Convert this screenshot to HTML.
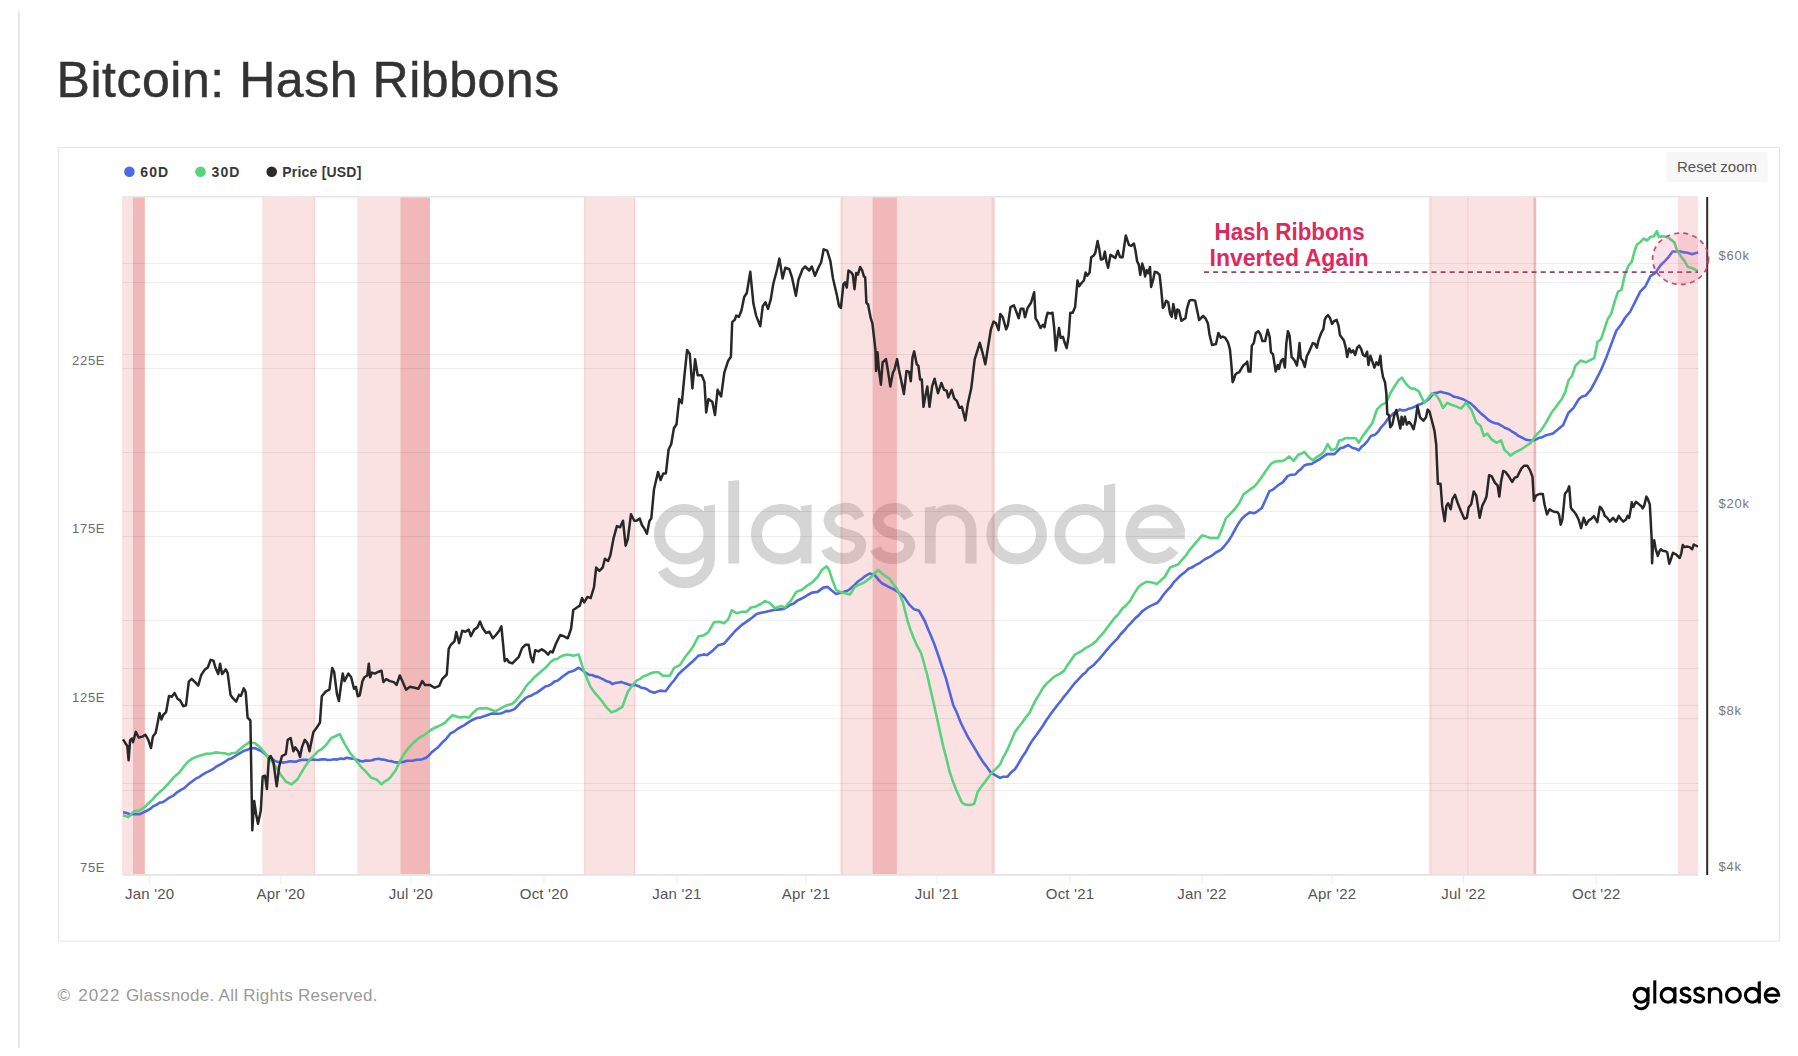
<!DOCTYPE html>
<html><head><meta charset="utf-8"><title>Bitcoin: Hash Ribbons</title>
<style>
html,body{margin:0;padding:0;background:#fff;}
body{width:1798px;height:1056px;position:relative;overflow:hidden;font-family:"Liberation Sans",sans-serif;}
svg text{font-family:"Liberation Sans",sans-serif;}
</style></head><body>
<svg width="1798" height="1056" viewBox="0 0 1798 1056" style="position:absolute;left:0;top:0">
<rect x="18" y="11" width="1.6" height="1037" fill="#e3e3e3"/>
<text x="56.5" y="97" font-size="50" fill="#333" stroke="#333" stroke-width="0.45" letter-spacing="0.54">Bitcoin: Hash Ribbons</text>
<rect x="58.5" y="147.5" width="1721" height="793.5" fill="none" stroke="#e6e6e6" stroke-width="1"/>
<circle cx="129.4" cy="171.7" r="5.3" fill="#4d6be4"/>
<text x="140.3" y="176.8" font-size="14" font-weight="bold" fill="#383838" letter-spacing="1.1">60D</text>
<circle cx="200.5" cy="171.7" r="5.3" fill="#57d37c"/>
<text x="211.5" y="176.8" font-size="14" font-weight="bold" fill="#383838" letter-spacing="1.1">30D</text>
<circle cx="271.7" cy="171.7" r="5.3" fill="#2b2b2b"/>
<text x="282.3" y="176.8" font-size="14" font-weight="bold" fill="#383838" letter-spacing="0.2">Price [USD]</text>
<rect x="1666.5" y="152" width="101" height="30" rx="2" fill="#f7f7f7"/>
<text x="1677" y="172" font-size="15" fill="#555">Reset zoom</text>
<g fill="none" stroke="#000" opacity="0.16" stroke-width="11"><circle cx="684.2" cy="534.2" r="24.8"/>
<path d="M703.9,557 L703.9,506.2 L714.9,504.6 L714.9,557 Z" fill="#000" stroke="none"/>
<path d="M709.4,556.5 A24.8,24.8 0 0 1 662.7,569.5"/>
<path d="M728.3,563.4 L728.3,481.2 L739.2,480.1 L739.2,563.4 Z" fill="#000" stroke="none"/>
<circle cx="781.25" cy="534.2" r="24.8"/>
<path d="M800.7,563.4 L800.7,506.2 L811.6,504.6 L811.6,563.4 Z" fill="#000" stroke="none"/>
<path d="M859.5999999999999,518.0 C855.5999999999999,510.0 849.3,507.0 841.3,509.0 C831.3,511.0 828.3,517.0 829.3,522.0 C831.3,531.8 841.3,532.3 843.9499999999999,533.8 C854.5999999999999,535.8 861.5999999999999,538.8 860.5999999999999,546.6 C859.5999999999999,555.6 851.3,558.6 843.3,558.6 C834.3,558.6 828.3,553.6 826.3,548.6"/>
<path d="M908.5999999999999,518.0 C904.5999999999999,510.0 898.3,507.0 890.3,509.0 C880.3,511.0 877.3,517.0 878.3,522.0 C880.3,531.8 890.3,532.3 892.9499999999999,533.8 C903.5999999999999,535.8 910.5999999999999,538.8 909.5999999999999,546.6 C908.5999999999999,555.6 900.3,558.6 892.3,558.6 C883.3,558.6 877.3,553.6 875.3,548.6"/>
<path d="M924.8,563.4 L924.8,507.8 L935.7,505.8 L935.7,563.4 Z" fill="#000" stroke="none"/>
<path d="M930.25,531 L930.25,529.4 A20.4,20.4 0 0 1 971,529.4 L971,563.4"/>
<circle cx="1016.65" cy="534.2" r="24.8"/>
<circle cx="1084.65" cy="534.2" r="24.8"/>
<path d="M1104.0,563.4 L1104.0,485.6 L1115.2,483.2 L1115.2,563.4 Z" fill="#000" stroke="none"/>
<path d="M1131.2,533.85 L1184.8999999999999,533.85 M1179.3999999999999,533.85 A24.1,24.1 0 1 0 1174.098,549.383"/></g>
<rect x="122" y="197" width="11.0" height="677.6" fill="rgba(230,120,120,0.21)"/>
<rect x="133" y="197" width="11.8" height="677.6" fill="rgba(216,68,68,0.38)"/>
<rect x="262.2" y="197" width="52.7" height="677.6" fill="rgba(230,120,120,0.21)"/>
<rect x="357.3" y="197" width="43.1" height="677.6" fill="rgba(230,120,120,0.21)"/>
<rect x="400.4" y="197" width="29.6" height="677.6" fill="rgba(216,68,68,0.38)"/>
<rect x="584.2" y="197" width="51.0" height="677.6" fill="rgba(230,120,120,0.21)"/>
<rect x="840.6" y="197" width="31.9" height="677.6" fill="rgba(230,120,120,0.21)"/>
<rect x="872.5" y="197" width="24.4" height="677.6" fill="rgba(216,68,68,0.38)"/>
<rect x="896.9" y="197" width="95.1" height="677.6" fill="rgba(230,120,120,0.21)"/>
<rect x="1429.4" y="197" width="106.5" height="677.6" fill="rgba(230,120,120,0.21)"/>
<rect x="1678" y="197" width="20.0" height="677.6" fill="rgba(230,120,120,0.21)"/>
<rect x="313.7" y="197" width="1.8" height="677.6" fill="rgba(216,68,68,0.09)"/>
<rect x="633.8" y="197" width="1.8" height="677.6" fill="rgba(216,68,68,0.09)"/>
<rect x="584.2" y="197" width="1.5" height="677.6" fill="rgba(216,68,68,0.09)"/>
<rect x="840.6" y="197" width="2.2" height="677.6" fill="rgba(216,68,68,0.09)"/>
<rect x="991.7" y="197" width="3.0" height="677.6" fill="rgba(216,68,68,0.09)"/>
<rect x="1429.4" y="197" width="2" height="677.6" fill="rgba(216,68,68,0.09)"/>
<rect x="1467.0" y="197" width="1.6" height="677.6" fill="rgba(216,68,68,0.09)"/>
<rect x="1534.0" y="197" width="2.4" height="677.6" fill="rgba(216,68,68,0.09)"/>
<rect x="992.2" y="197" width="2.4" height="677.6" fill="rgba(216,68,68,0.2)"/>
<rect x="1533.4" y="197" width="2.8" height="677.6" fill="rgba(216,68,68,0.2)"/>
<rect x="122.5" y="196" width="1575.5" height="1.6" fill="#e8e8e8"/>
<rect x="122.5" y="263" width="1575.5" height="1" fill="#000" fill-opacity="0.068"/>
<rect x="122.5" y="282" width="1575.5" height="1" fill="#000" fill-opacity="0.068"/>
<rect x="122.5" y="354" width="1575.5" height="1" fill="#000" fill-opacity="0.068"/>
<rect x="122.5" y="368" width="1575.5" height="1" fill="#000" fill-opacity="0.068"/>
<rect x="122.5" y="452" width="1575.5" height="1" fill="#000" fill-opacity="0.068"/>
<rect x="122.5" y="511" width="1575.5" height="1" fill="#000" fill-opacity="0.068"/>
<rect x="122.5" y="536" width="1575.5" height="1" fill="#000" fill-opacity="0.068"/>
<rect x="122.5" y="620" width="1575.5" height="1" fill="#000" fill-opacity="0.068"/>
<rect x="122.5" y="668" width="1575.5" height="1" fill="#000" fill-opacity="0.068"/>
<rect x="122.5" y="705" width="1575.5" height="1" fill="#000" fill-opacity="0.068"/>
<rect x="122.5" y="718" width="1575.5" height="1" fill="#000" fill-opacity="0.068"/>
<rect x="122.5" y="783" width="1575.5" height="1" fill="#000" fill-opacity="0.068"/>
<rect x="122.5" y="790" width="1575.5" height="1" fill="#000" fill-opacity="0.068"/>
<path d="M123.0,812.3 L125.9,812.7 L130.1,814.2 L133.0,814.3 L135.9,814.0 L139.6,814.2 L142.5,812.9 L147.2,810.5 L150.1,808.9 L153.0,806.4 L156.7,804.8 L159.6,802.6 L162.5,802.3 L166.1,800.0 L169.0,797.8 L173.7,795.3 L176.6,792.7 L181.3,789.6 L184.2,788.1 L188.8,783.9 L191.7,781.7 L196.4,778.3 L199.3,777.1 L202.2,774.8 L205.9,772.6 L208.8,771.4 L213.5,768.8 L216.4,766.5 L221.0,764.1 L223.9,762.5 L228.6,759.3 L231.5,758.4 L236.2,755.5 L239.1,753.7 L243.8,750.8 L246.7,750.1 L251.3,748.0 L255.1,748.3 L260.8,750.8 L265.0,754.1 L267.9,756.4 L270.8,757.5 L274.5,760.7 L277.4,761.7 L280.3,762.0 L283.9,762.6 L286.8,762.0 L289.7,761.3 L293.4,761.6 L296.3,761.6 L299.2,760.4 L302.9,759.7 L305.8,759.9 L308.7,760.1 L312.3,759.4 L315.2,759.7 L318.1,760.0 L321.8,759.4 L324.7,759.3 L327.6,760.0 L331.3,759.7 L334.2,759.2 L337.1,759.6 L340.8,758.4 L343.7,759.0 L346.6,757.8 L350.2,758.4 L353.1,758.6 L356.0,759.4 L359.7,760.7 L362.6,761.4 L365.5,760.6 L369.2,760.7 L372.1,760.3 L375.0,759.2 L378.6,758.8 L381.5,759.4 L384.4,759.8 L388.1,760.7 L391.0,761.1 L393.9,762.0 L397.6,762.6 L400.5,762.1 L403.4,762.0 L407.0,760.7 L409.9,760.7 L412.8,760.7 L416.5,759.7 L419.4,759.7 L422.3,759.3 L426.0,757.8 L428.9,755.5 L431.8,752.1 L435.5,749.3 L438.4,746.9 L443.0,741.7 L445.9,739.2 L450.6,733.2 L453.5,732.0 L458.2,728.5 L461.1,726.9 L464.0,725.3 L468.7,722.2 L471.6,720.3 L477.4,717.8 L480.3,717.6 L483.2,716.4 L486.1,715.6 L489.0,714.6 L491.9,713.6 L494.9,713.5 L497.8,713.7 L500.7,713.5 L503.6,712.4 L506.5,710.9 L509.4,711.1 L514.5,709.1 L517.4,706.1 L520.3,702.8 L525.4,698.2 L528.3,696.5 L531.2,695.7 L534.1,693.9 L537.0,692.6 L542.8,688.4 L545.7,686.3 L548.6,685.7 L551.5,684.1 L554.4,681.6 L557.3,680.8 L560.2,678.6 L563.1,676.2 L568.9,672.1 L571.8,671.4 L574.7,670.2 L578.7,667.7 L581.6,669.8 L586.4,673.2 L589.3,675.0 L592.2,675.0 L595.1,676.4 L598.0,676.9 L603.8,679.7 L606.7,681.3 L609.6,681.9 L612.5,684.1 L615.4,682.9 L618.3,682.5 L621.2,681.9 L624.1,683.1 L629.9,685.1 L632.8,685.0 L635.7,685.1 L638.6,686.2 L641.5,687.8 L644.4,688.1 L647.4,689.5 L650.3,691.6 L654.3,692.8 L659.9,690.6 L665.6,691.3 L671.3,683.5 L674.2,680.3 L678.4,674.3 L681.3,671.5 L686.9,666.5 L692.6,661.5 L698.3,655.8 L704.0,654.4 L706.8,655.1 L712.5,650.9 L718.2,645.2 L723.9,643.8 L729.5,637.4 L735.2,631.0 L738.1,628.3 L742.3,624.6 L745.2,622.6 L749.4,619.6 L752.3,617.5 L756.5,613.9 L762.2,612.5 L765.1,612.1 L769.3,611.1 L775.0,609.7 L777.9,609.6 L783.5,609.0 L786.4,607.4 L790.6,604.7 L793.5,603.6 L797.7,600.4 L800.6,599.0 L804.8,596.9 L807.7,595.0 L811.9,592.6 L817.6,591.9 L823.3,587.6 L827.6,586.9 L831.8,590.5 L836.1,594.0 L841.8,592.6 L847.4,590.8 L850.3,588.7 L854.8,584.6 L857.7,581.8 L862.2,578.5 L865.1,576.2 L869.6,573.5 L874.5,574.8 L879.4,580.9 L882.3,583.5 L886.8,585.8 L889.7,587.3 L894.2,589.5 L897.1,591.5 L901.6,594.5 L904.5,597.6 L909.0,604.3 L913.9,609.2 L918.8,610.5 L921.7,615.5 L925.0,621.5 L927.9,628.7 L931.1,636.3 L934.0,643.3 L938.5,656.0 L941.4,664.9 L945.9,678.2 L948.8,689.0 L953.3,705.2 L956.2,711.3 L960.7,722.5 L963.6,728.5 L968.1,737.3 L971.0,742.1 L975.5,749.6 L978.4,754.7 L982.9,761.9 L985.8,765.6 L990.2,771.7 L993.1,773.8 L996.0,775.7 L1000.1,777.9 L1003.0,776.7 L1007.5,776.6 L1010.4,773.1 L1014.9,769.3 L1017.8,764.7 L1022.3,757.0 L1025.2,752.8 L1029.7,744.6 L1032.6,740.1 L1035.5,736.3 L1040.0,729.9 L1042.9,725.7 L1045.8,721.0 L1050.0,715.0 L1052.9,711.0 L1055.8,707.2 L1061.5,700.0 L1064.4,696.1 L1067.3,692.8 L1072.1,686.5 L1075.0,682.9 L1077.9,679.8 L1082.7,674.6 L1085.6,672.5 L1088.5,668.8 L1093.4,665.3 L1096.3,662.1 L1099.2,659.1 L1104.0,653.4 L1106.9,649.8 L1109.8,646.4 L1114.6,641.4 L1117.5,638.6 L1120.4,634.5 L1125.2,629.5 L1128.1,625.8 L1131.0,622.9 L1135.8,617.6 L1138.7,615.4 L1141.6,611.9 L1146.4,608.3 L1149.3,606.6 L1152.2,605.2 L1157.0,603.0 L1159.9,599.9 L1162.8,595.6 L1167.6,589.7 L1170.5,587.0 L1173.4,582.7 L1178.2,577.8 L1181.1,575.0 L1184.0,572.9 L1188.8,568.5 L1191.7,567.6 L1194.6,565.6 L1199.5,563.2 L1202.4,561.0 L1205.3,559.0 L1210.1,556.6 L1213.0,554.8 L1215.9,552.5 L1220.7,549.9 L1223.6,547.0 L1228.6,540.7 L1231.5,536.1 L1236.1,527.6 L1239.0,522.7 L1242.1,518.5 L1245.0,515.8 L1249.7,512.4 L1254.2,513.2 L1257.1,511.6 L1261.8,507.9 L1264.7,501.7 L1269.4,491.2 L1272.3,489.9 L1275.5,487.4 L1278.4,485.1 L1283.0,482.1 L1287.6,476.1 L1290.5,474.9 L1295.2,474.5 L1298.1,471.3 L1301.0,469.1 L1304.2,465.5 L1307.1,464.5 L1311.8,463.9 L1314.7,462.0 L1319.4,459.4 L1322.3,457.3 L1327.0,454.1 L1329.9,454.0 L1334.5,454.1 L1337.4,451.1 L1340.6,448.0 L1343.5,447.5 L1348.2,445.0 L1352.7,448.0 L1355.6,448.6 L1358.8,450.3 L1361.7,446.6 L1364.8,444.2 L1367.7,440.9 L1370.9,435.9 L1375.5,434.4 L1378.4,431.3 L1381.5,426.8 L1384.4,423.9 L1387.6,419.2 L1390.5,416.2 L1393.6,413.2 L1396.5,412.1 L1399.7,409.4 L1402.6,410.4 L1405.8,410.2 L1408.7,408.7 L1411.8,407.9 L1414.7,406.8 L1417.9,404.8 L1420.8,404.2 L1423.9,402.6 L1428.0,400.0 L1433.6,393.4 L1436.5,392.9 L1440.5,391.7 L1443.4,392.5 L1447.3,393.4 L1450.2,394.5 L1454.1,396.8 L1457.0,397.3 L1460.9,398.5 L1463.8,399.5 L1467.7,401.9 L1470.6,403.4 L1474.6,407.0 L1477.5,410.1 L1481.4,413.9 L1484.3,416.1 L1488.2,419.8 L1491.1,421.7 L1495.0,423.2 L1497.9,423.6 L1501.8,425.8 L1504.7,427.8 L1508.7,429.2 L1511.6,431.3 L1515.5,433.5 L1518.4,435.9 L1522.3,437.7 L1525.2,439.4 L1529.1,440.3 L1534.2,440.3 L1539.4,437.7 L1542.3,437.2 L1546.2,435.2 L1549.1,434.6 L1553.0,433.5 L1558.1,429.2 L1563.2,424.9 L1568.3,413.0 L1573.5,407.9 L1578.9,399.0 L1581.8,396.8 L1585.7,395.6 L1590.8,389.6 L1595.9,380.2 L1601.0,370.0 L1606.1,358.1 L1611.2,344.4 L1616.3,330.8 L1621.5,324.0 L1624.9,318.0 L1630.0,312.0 L1635.1,301.8 L1640.2,291.6 L1645.3,286.5 L1650.4,276.2 L1655.5,272.8 L1660.6,265.2 L1665.8,260.1 L1668.7,256.8 L1672.6,251.5 L1677.7,251.5 L1680.6,251.4 L1684.5,252.4 L1687.4,252.8 L1691.3,254.1 L1694.2,253.6 L1698.1,252.4" fill="none" stroke="#4f66de" stroke-width="2.6" stroke-linejoin="round"/>
<path d="M123.0,815.2 L128.3,817.1 L133.9,811.4 L139.6,810.5 L145.3,806.7 L148.2,803.5 L152.9,799.1 L155.8,795.6 L160.4,791.5 L163.3,788.9 L168.0,784.0 L173.7,777.3 L179.4,772.6 L185.0,765.0 L187.9,761.8 L192.6,758.4 L195.5,757.3 L200.2,755.5 L203.1,754.7 L206.0,753.7 L209.7,753.6 L212.6,753.3 L215.5,752.4 L219.1,752.7 L222.0,753.2 L224.9,753.2 L228.6,754.6 L231.5,753.3 L236.2,752.7 L239.1,750.0 L243.8,746.0 L249.4,742.3 L255.1,743.2 L260.8,748.0 L265.0,753.1 L267.9,757.2 L272.6,762.6 L275.5,766.3 L280.2,773.9 L285.8,781.5 L291.5,784.4 L297.2,779.6 L302.9,770.2 L305.8,765.4 L310.5,758.8 L313.4,756.1 L318.0,751.2 L320.9,749.7 L325.6,745.5 L331.3,738.0 L334.2,736.8 L339.8,734.2 L344.5,743.6 L350.2,753.1 L353.1,756.6 L357.8,762.6 L360.7,766.6 L365.4,771.1 L371.1,777.7 L376.7,779.6 L381.5,784.4 L384.4,781.6 L388.1,779.6 L391.0,776.6 L395.7,770.2 L398.6,764.1 L403.3,755.0 L406.2,750.9 L409.1,747.4 L412.7,743.6 L415.6,740.8 L420.3,737.0 L423.2,735.7 L427.9,732.3 L430.8,730.0 L435.5,727.5 L438.4,726.2 L441.3,724.8 L444.9,722.8 L447.8,719.7 L452.5,715.2 L458.2,717.1 L461.1,717.4 L464.0,716.8 L468.7,717.8 L471.6,714.2 L477.4,709.1 L480.3,708.3 L483.2,708.6 L486.1,708.0 L489.0,709.0 L491.9,709.9 L494.9,711.3 L497.8,710.0 L500.7,708.3 L503.6,706.9 L506.5,705.5 L512.3,703.7 L515.2,701.2 L518.8,697.1 L521.7,693.1 L525.4,687.3 L528.3,683.6 L531.2,680.9 L534.1,677.5 L537.0,675.0 L542.8,669.9 L545.7,667.6 L548.6,664.4 L551.5,661.2 L554.4,659.4 L557.3,659.0 L560.2,656.8 L563.1,655.4 L567.8,654.6 L573.3,655.7 L578.7,654.6 L584.2,672.1 L587.1,678.8 L590.7,687.3 L593.6,691.3 L599.4,698.2 L602.3,701.5 L606.0,706.9 L611.4,712.4 L616.9,710.2 L622.3,706.9 L627.8,691.7 L630.7,687.8 L634.3,683.0 L637.2,680.1 L640.1,678.9 L643.0,676.4 L645.9,675.6 L650.0,673.6 L654.3,672.2 L658.5,672.2 L662.8,675.7 L665.7,675.8 L669.9,675.7 L674.1,667.9 L679.8,665.1 L685.5,656.5 L691.2,649.4 L694.1,644.7 L698.3,636.6 L704.0,635.2 L708.2,632.4 L713.9,622.4 L719.6,621.7 L723.9,623.2 L728.1,619.6 L731.7,610.4 L736.6,613.2 L742.3,611.8 L746.6,611.8 L750.9,607.5 L755.1,606.8 L760.8,604.0 L765.1,601.1 L769.3,602.6 L775.0,608.2 L780.7,606.1 L784.9,607.5 L790.6,601.1 L796.3,591.9 L802.0,589.8 L806.3,586.2 L811.9,582.7 L817.6,577.0 L821.9,569.9 L826.8,566.3 L829.0,569.9 L831.8,578.4 L836.1,589.8 L840.3,591.9 L844.9,593.2 L849.9,594.5 L854.8,587.1 L857.7,585.4 L862.2,583.4 L865.1,581.8 L869.6,578.5 L874.5,573.5 L878.2,569.8 L881.9,573.5 L884.8,575.6 L889.3,578.5 L892.2,582.5 L896.7,588.3 L899.6,594.7 L902.8,601.9 L907.7,621.5 L910.6,630.1 L913.9,638.8 L916.8,645.2 L921.3,653.5 L924.2,664.0 L927.4,675.7 L930.3,688.6 L933.6,702.8 L938.5,725.0 L943.4,747.1 L946.3,757.9 L949.6,771.7 L952.5,780.1 L955.8,789.0 L958.7,795.6 L961.9,802.5 L964.8,804.4 L968.1,805.0 L971.0,804.9 L974.2,803.7 L977.9,791.4 L980.8,787.2 L985.3,781.6 L988.2,777.5 L992.7,771.7 L995.6,769.1 L1000.1,764.3 L1003.0,757.8 L1007.5,749.6 L1010.4,742.8 L1014.9,732.3 L1017.8,728.0 L1022.3,722.5 L1025.2,718.0 L1029.7,712.6 L1032.6,706.1 L1037.0,697.9 L1039.9,693.4 L1043.0,687.8 L1045.9,684.3 L1048.8,681.6 L1053.6,677.2 L1056.5,675.2 L1059.4,674.1 L1064.2,670.6 L1067.1,665.6 L1070.0,661.8 L1074.8,654.7 L1077.7,653.0 L1080.6,651.7 L1085.4,648.1 L1088.3,646.7 L1091.2,645.0 L1096.0,641.4 L1098.9,637.7 L1104.0,632.1 L1106.9,628.1 L1111.9,621.5 L1114.8,617.7 L1117.7,614.9 L1122.5,608.3 L1125.4,606.1 L1130.5,600.3 L1133.4,594.9 L1138.4,587.1 L1141.3,584.7 L1146.4,581.8 L1149.3,582.0 L1152.2,582.5 L1157.0,583.9 L1159.9,581.2 L1165.0,576.5 L1170.3,567.2 L1173.2,566.3 L1178.2,564.5 L1181.1,560.8 L1186.2,555.2 L1189.1,550.6 L1194.2,544.6 L1197.1,541.1 L1202.1,535.4 L1205.0,536.1 L1210.1,538.0 L1213.0,538.1 L1218.0,538.0 L1220.9,531.5 L1226.0,518.1 L1228.9,515.4 L1234.5,509.4 L1239.1,503.3 L1243.6,494.2 L1246.5,492.1 L1249.7,489.7 L1254.2,486.7 L1257.1,483.3 L1260.3,479.1 L1263.2,475.0 L1266.4,470.0 L1270.9,463.9 L1273.8,462.1 L1278.5,460.9 L1281.4,461.2 L1284.5,460.2 L1289.1,456.4 L1293.6,460.9 L1298.2,454.8 L1301.1,453.8 L1304.2,451.8 L1308.8,457.1 L1312.6,460.2 L1317.9,456.4 L1320.8,454.7 L1323.9,451.8 L1327.7,444.2 L1331.5,450.3 L1336.1,448.8 L1339.1,440.5 L1342.0,439.9 L1345.2,438.2 L1348.1,438.0 L1351.2,438.2 L1355.8,438.2 L1358.8,442.7 L1363.3,435.2 L1367.9,429.1 L1372.4,423.0 L1377.0,409.4 L1381.5,404.8 L1386.1,402.6 L1390.6,392.7 L1395.2,385.2 L1398.2,380.6 L1402.0,377.6 L1405.8,383.6 L1410.3,388.2 L1414.8,388.9 L1418.6,391.2 L1422.4,398.8 L1424.3,402.8 L1427.7,398.5 L1431.9,393.4 L1436.2,395.1 L1439.6,400.2 L1443.0,407.9 L1447.3,402.8 L1450.7,404.5 L1455.8,406.2 L1460.9,408.7 L1466.0,402.8 L1471.2,409.6 L1476.3,422.4 L1480.5,425.8 L1483.9,436.0 L1487.3,433.5 L1491.6,439.4 L1496.7,442.8 L1501.0,440.3 L1504.4,449.7 L1507.3,452.4 L1510.4,455.6 L1515.5,452.2 L1520.6,449.7 L1525.7,446.2 L1530.8,442.8 L1535.9,435.2 L1541.1,430.1 L1546.2,422.4 L1551.3,413.0 L1556.4,406.2 L1561.8,399.0 L1565.2,392.2 L1568.6,380.2 L1572.0,376.0 L1575.4,365.7 L1580.6,360.6 L1585.7,362.3 L1590.8,359.8 L1594.2,358.1 L1597.6,341.9 L1601.0,339.3 L1604.4,329.1 L1607.8,318.9 L1611.2,313.7 L1614.6,301.8 L1618.0,291.6 L1621.5,289.9 L1624.9,274.5 L1628.3,266.0 L1631.7,261.8 L1634.2,252.4 L1636.8,244.7 L1640.2,242.2 L1643.6,238.7 L1647.0,240.5 L1650.4,237.0 L1653.8,236.2 L1656.9,231.1 L1658.9,237.0 L1662.3,236.2 L1667.5,237.0 L1670.9,239.6 L1674.3,242.2 L1676.8,249.8 L1681.1,256.6 L1684.5,260.9 L1687.9,266.9 L1691.3,267.7 L1694.7,269.4 L1698.1,271.1" fill="none" stroke="#58d37d" stroke-width="2.6" stroke-linejoin="round"/>
<path d="M123.0,739.4 L125.4,743.2 L127.3,746.0 L128.6,760.3 L130.1,740.4 L132.0,738.5 L133.0,742.3 L135.8,731.9 L138.7,737.5 L142.5,736.6 L145.3,734.7 L148.1,739.4 L151.0,748.0 L152.9,736.6 L155.7,732.8 L157.6,723.3 L159.5,712.9 L161.4,719.5 L163.3,714.8 L166.1,712.0 L169.0,695.9 L171.8,696.8 L174.6,693.0 L177.5,698.7 L180.3,700.6 L183.2,706.3 L186.0,705.3 L188.8,681.7 L191.7,678.8 L194.5,681.7 L198.3,685.5 L201.2,675.0 L205.0,669.4 L207.8,667.5 L210.6,659.9 L213.5,660.8 L215.4,667.5 L218.2,674.1 L220.1,663.7 L222.0,674.1 L225.8,669.4 L227.7,673.1 L230.5,694.9 L233.3,698.7 L236.2,701.6 L239.0,694.9 L240.9,695.9 L243.8,688.3 L245.7,692.1 L247.6,717.7 L250.4,720.5 L252.3,830.3 L254.2,801.0 L256.1,814.2 L258.0,823.7 L260.8,810.5 L262.7,776.4 L265.0,775.8 L266.9,789.1 L268.8,758.8 L270.7,756.0 L273.5,762.6 L276.7,786.3 L279.2,766.4 L282.0,756.0 L285.8,754.1 L287.7,739.8 L290.6,738.0 L293.4,751.2 L295.3,747.4 L298.1,751.2 L300.0,756.9 L301.9,747.4 L304.8,739.8 L307.6,743.6 L309.5,751.2 L313.3,732.3 L316.1,728.5 L319.9,722.8 L321.8,696.3 L325.6,691.6 L329.4,689.7 L332.2,667.9 L334.1,671.7 L337.0,694.4 L338.9,701.0 L340.8,686.8 L342.7,673.6 L344.5,681.1 L348.3,673.6 L351.2,677.3 L354.0,688.7 L355.9,686.8 L357.8,696.3 L359.7,695.3 L362.5,681.1 L364.4,677.3 L367.3,675.5 L368.8,663.7 L370.1,677.3 L372.0,672.6 L374.8,673.6 L378.6,671.7 L381.5,670.7 L383.4,682.1 L386.2,679.2 L390.0,681.1 L393.8,682.1 L396.6,684.9 L399.8,675.5 L402.3,681.1 L406.1,689.7 L409.9,686.8 L414.6,687.8 L418.4,688.7 L422.2,681.1 L425.0,684.9 L429.8,684.9 L434.5,687.8 L439.2,685.9 L442.1,679.2 L446.8,674.5 L448.7,648.9 L450.6,645.2 L454.4,641.4 L456.3,631.9 L459.1,643.3 L462.2,630.7 L465.4,631.8 L468.7,629.6 L470.9,636.1 L474.2,629.6 L477.4,627.4 L480.0,621.5 L482.9,628.5 L486.1,632.9 L489.4,631.8 L492.7,638.3 L495.9,635.0 L499.2,630.7 L501.4,626.3 L504.7,661.2 L506.8,659.0 L509.0,662.3 L512.3,663.4 L515.6,660.1 L518.8,656.8 L522.1,648.1 L525.4,644.8 L528.6,644.8 L530.8,656.8 L533.0,662.3 L535.2,650.3 L538.4,651.4 L541.7,649.2 L545.0,651.4 L548.2,654.6 L550.4,651.4 L552.6,652.5 L555.9,643.8 L560.2,635.0 L563.5,636.1 L567.8,638.3 L571.1,628.5 L573.3,610.0 L576.6,607.8 L579.8,605.6 L582.0,598.0 L584.2,602.4 L587.5,596.9 L590.7,598.0 L594.0,587.1 L596.2,567.5 L599.4,570.8 L602.7,567.5 L604.9,558.8 L608.1,561.0 L610.3,555.5 L613.6,538.1 L616.9,526.1 L620.1,527.2 L623.0,520.7 L625.6,545.7 L627.8,539.2 L631.0,514.2 L634.3,520.7 L636.5,520.7 L639.7,518.5 L641.9,525.0 L644.1,528.3 L646.9,533.8 L649.5,520.7 L651.3,518.4 L654.0,489.3 L658.0,472.0 L660.6,480.0 L663.3,473.4 L665.9,473.4 L668.6,449.5 L671.2,444.2 L673.9,428.3 L676.5,424.3 L679.2,399.1 L681.8,403.1 L684.5,375.2 L687.1,350.0 L689.8,354.0 L692.4,388.5 L695.1,359.3 L697.7,375.2 L701.7,375.2 L704.4,381.9 L706.2,412.4 L708.4,399.1 L712.3,401.8 L715.0,415.0 L717.6,389.8 L721.1,396.5 L724.3,372.6 L728.2,360.7 L730.9,356.7 L732.2,322.2 L734.9,319.6 L736.2,315.6 L738.9,316.9 L741.5,310.3 L744.2,297.0 L746.8,293.0 L750.3,271.8 L753.4,303.6 L756.1,315.6 L760.3,326.2 L762.7,306.3 L765.4,302.3 L768.0,308.9 L770.7,299.7 L773.3,283.8 L776.8,270.5 L779.4,258.6 L782.6,278.5 L785.3,267.8 L789.3,269.2 L791.9,277.1 L795.9,295.7 L798.5,279.8 L802.5,269.2 L805.2,266.5 L809.2,270.5 L811.8,266.5 L815.0,275.8 L818.4,267.8 L821.1,262.5 L823.7,249.3 L827.2,250.6 L830.4,261.2 L833.0,278.5 L837.0,295.7 L839.0,306.0 L840.9,308.0 L843.4,284.1 L845.1,282.4 L846.8,287.5 L848.5,270.5 L851.1,272.2 L852.8,274.7 L854.5,289.2 L856.2,273.0 L857.9,274.7 L860.1,267.0 L862.2,270.5 L863.9,276.4 L865.2,277.3 L866.4,302.8 L868.1,304.5 L870.7,318.2 L872.4,323.3 L874.1,337.8 L875.5,350.6 L876.1,371.0 L877.5,352.3 L878.9,369.3 L880.9,384.7 L882.6,362.5 L886.0,359.1 L887.7,369.3 L890.3,386.4 L892.9,372.7 L894.6,369.3 L897.1,359.1 L898.8,369.3 L901.4,381.2 L903.9,394.0 L906.5,371.0 L909.1,371.9 L910.8,381.2 L912.5,357.4 L914.2,351.4 L916.7,364.2 L918.4,365.9 L920.1,379.5 L921.8,379.5 L923.5,406.8 L925.3,396.6 L927.3,386.4 L929.5,406.8 L932.1,386.4 L934.6,378.7 L938.0,393.2 L941.4,383.0 L944.0,389.8 L946.6,390.6 L948.3,397.4 L951.7,389.8 L954.2,398.3 L956.8,400.8 L959.4,407.7 L961.9,406.8 L965.3,420.4 L967.9,403.4 L971.3,388.1 L974.7,359.1 L976.4,354.0 L979.8,342.9 L982.4,352.3 L985.3,364.2 L988.3,345.5 L990.9,329.3 L993.5,321.6 L996.0,323.3 L998.6,330.1 L1000.3,313.9 L1002.8,317.3 L1006.2,329.3 L1007.9,325.0 L1010.5,307.1 L1013.9,305.4 L1016.5,312.2 L1018.7,318.2 L1020.7,308.8 L1023.3,308.8 L1025.0,317.3 L1027.6,308.0 L1031.0,302.8 L1034.2,292.2 L1035.6,318.4 L1038.1,322.4 L1040.5,328.0 L1042.9,324.8 L1044.5,327.2 L1046.1,318.4 L1047.7,312.7 L1050.1,313.5 L1052.5,312.7 L1054.2,328.0 L1055.8,350.6 L1057.4,337.7 L1059.0,328.0 L1060.6,337.7 L1063.0,336.9 L1064.6,342.5 L1066.7,348.1 L1068.6,336.1 L1070.3,312.7 L1072.7,312.7 L1075.1,307.1 L1077.5,280.5 L1079.1,286.2 L1081.5,283.0 L1083.9,280.5 L1085.6,272.5 L1087.2,275.7 L1089.6,272.5 L1091.2,257.2 L1093.6,255.6 L1095.2,253.2 L1097.6,241.1 L1099.2,249.1 L1100.9,259.6 L1103.3,258.8 L1104.9,251.6 L1106.5,262.0 L1108.1,267.7 L1110.5,254.8 L1112.9,256.4 L1115.3,258.0 L1117.8,250.8 L1120.2,257.2 L1122.6,257.2 L1125.8,235.5 L1127.4,240.3 L1129.0,245.1 L1131.4,245.9 L1133.9,243.5 L1135.5,250.8 L1137.1,261.2 L1138.7,264.4 L1140.3,274.9 L1142.2,263.6 L1143.5,267.7 L1145.1,276.5 L1146.7,270.1 L1148.4,273.3 L1150.0,266.9 L1151.1,287.0 L1153.2,279.7 L1154.8,271.7 L1157.2,272.5 L1159.6,274.9 L1161.2,289.4 L1162.9,307.9 L1164.5,305.5 L1166.1,300.7 L1168.2,302.3 L1170.1,313.5 L1171.7,316.8 L1173.3,303.9 L1174.9,311.9 L1175.7,318.4 L1177.3,309.5 L1179.0,310.3 L1181.4,320.8 L1183.8,319.2 L1185.4,318.4 L1187.0,308.7 L1189.4,300.7 L1191.8,299.9 L1195.1,300.7 L1197.5,311.9 L1199.1,320.0 L1200.7,318.4 L1203.1,316.0 L1205.5,318.4 L1207.9,323.2 L1209.5,334.5 L1212.0,344.9 L1216.0,344.1 L1218.4,332.9 L1220.8,337.7 L1222.7,336.5 L1225.3,337.8 L1228.0,342.4 L1229.9,349.1 L1231.3,363.6 L1232.6,382.2 L1233.9,379.5 L1235.2,374.9 L1237.2,372.9 L1239.2,372.3 L1241.2,368.9 L1243.2,365.6 L1245.8,363.6 L1247.2,361.6 L1248.5,371.6 L1250.5,371.6 L1251.8,345.7 L1253.8,343.1 L1255.8,333.1 L1258.4,331.2 L1260.4,334.5 L1262.4,341.1 L1265.1,341.1 L1267.7,329.8 L1269.7,337.1 L1271.0,352.4 L1273.0,354.4 L1275.7,371.6 L1277.7,365.0 L1279.0,368.9 L1281.0,361.0 L1283.0,359.0 L1284.9,367.6 L1286.3,343.7 L1287.9,331.2 L1289.6,335.8 L1291.6,357.0 L1292.9,358.3 L1294.9,361.0 L1296.9,365.6 L1298.2,357.0 L1299.5,343.1 L1300.8,358.3 L1302.8,361.0 L1304.8,366.9 L1306.8,356.3 L1308.8,352.4 L1310.8,347.7 L1312.8,343.1 L1314.8,343.7 L1316.8,347.7 L1318.7,339.8 L1321.4,332.5 L1323.4,329.2 L1324.7,319.9 L1326.0,317.2 L1328.0,315.2 L1330.0,317.9 L1332.0,323.9 L1334.0,321.2 L1336.6,319.9 L1338.6,325.9 L1339.9,335.1 L1341.9,337.8 L1343.9,340.4 L1345.9,348.4 L1347.2,357.0 L1349.2,348.4 L1351.2,352.4 L1353.2,350.4 L1355.2,355.0 L1357.2,347.7 L1359.2,345.7 L1361.2,349.1 L1363.1,355.0 L1365.1,356.3 L1367.1,351.7 L1368.4,365.0 L1370.4,355.7 L1372.4,361.6 L1374.4,367.6 L1376.4,362.3 L1378.4,365.0 L1380.4,355.7 L1381.4,367.6 L1383.0,376.9 L1385.0,382.2 L1386.3,392.8 L1387.3,414.0 L1389.0,415.3 L1390.3,427.3 L1392.3,424.6 L1394.3,415.3 L1396.3,410.0 L1398.3,419.3 L1400.3,428.6 L1401.6,416.7 L1402.9,424.6 L1404.9,416.7 L1406.9,424.6 L1408.9,422.0 L1410.9,424.0 L1413.5,429.3 L1415.5,420.6 L1417.5,406.1 L1420.0,417.3 L1423.4,420.7 L1426.0,417.3 L1427.7,409.6 L1429.4,411.3 L1431.9,420.7 L1434.5,430.9 L1436.2,444.5 L1437.9,483.7 L1440.5,483.7 L1442.2,505.9 L1444.7,521.2 L1446.4,505.9 L1448.1,503.3 L1450.7,509.3 L1452.4,499.1 L1455.0,494.8 L1457.5,502.5 L1460.9,511.0 L1464.3,518.7 L1466.9,517.8 L1468.6,507.6 L1471.2,504.2 L1473.7,491.4 L1476.3,495.7 L1479.7,517.8 L1482.2,505.9 L1484.8,500.8 L1486.5,496.5 L1489.1,475.2 L1491.6,476.1 L1495.0,482.9 L1497.6,485.4 L1499.3,496.5 L1501.0,482.0 L1503.2,471.0 L1505.3,471.8 L1508.7,476.1 L1512.1,482.0 L1514.6,477.8 L1517.2,476.9 L1519.7,471.8 L1521.5,468.4 L1524.0,465.8 L1527.4,465.8 L1530.0,470.1 L1532.5,476.9 L1533.9,500.8 L1535.9,495.7 L1539.4,494.0 L1542.8,494.0 L1544.5,504.2 L1547.0,514.4 L1549.6,509.3 L1552.1,511.0 L1554.7,511.9 L1557.3,511.9 L1559.0,514.4 L1560.7,524.7 L1562.4,519.5 L1564.9,494.0 L1567.5,490.6 L1569.2,486.3 L1570.9,507.6 L1572.6,510.2 L1574.3,511.9 L1576.0,514.4 L1578.6,519.5 L1581.1,528.1 L1583.7,517.8 L1586.2,524.7 L1588.8,520.4 L1591.4,518.7 L1593.9,516.1 L1597.3,522.1 L1599.9,506.8 L1601.6,508.5 L1603.6,512.2 L1604.7,515.8 L1607.3,517.9 L1609.9,521.6 L1613.0,517.9 L1616.1,521.6 L1618.8,515.8 L1620.8,519.0 L1623.4,521.6 L1626.0,519.5 L1627.6,515.8 L1629.2,517.9 L1630.7,509.6 L1631.8,502.3 L1633.3,507.0 L1635.9,501.8 L1639.1,504.4 L1641.7,506.5 L1642.7,508.5 L1644.3,505.4 L1646.4,496.6 L1647.9,499.2 L1649.8,504.4 L1650.5,516.9 L1651.6,537.7 L1652.1,563.2 L1653.1,540.8 L1654.2,540.3 L1655.7,549.2 L1657.8,555.9 L1659.4,551.3 L1660.9,549.2 L1662.5,550.7 L1665.6,551.3 L1667.2,552.3 L1669.3,563.8 L1670.8,559.6 L1672.9,552.8 L1676.0,554.4 L1679.7,558.0 L1681.3,553.3 L1682.8,545.0 L1684.4,547.1 L1687.5,546.6 L1689.6,547.1 L1692.2,549.2 L1693.8,544.5 L1695.8,545.5 L1697.9,546.6" fill="none" stroke="#282828" stroke-width="2.5" stroke-linejoin="round"/>
<rect x="122.5" y="874" width="1575.5" height="1.8" fill="#e3e3e3"/>
<rect x="149.2" y="875" width="1" height="9" fill="#ececec"/>
<text x="149.7" y="898.5" font-size="15" fill="#555" text-anchor="middle" letter-spacing="0.2">Jan '20</text>
<rect x="280.3" y="875" width="1" height="9" fill="#ececec"/>
<text x="280.8" y="898.5" font-size="15" fill="#555" text-anchor="middle" letter-spacing="0.2">Apr '20</text>
<rect x="410.5" y="875" width="1" height="9" fill="#ececec"/>
<text x="411" y="898.5" font-size="15" fill="#555" text-anchor="middle" letter-spacing="0.2">Jul '20</text>
<rect x="543.5" y="875" width="1" height="9" fill="#ececec"/>
<text x="544" y="898.5" font-size="15" fill="#555" text-anchor="middle" letter-spacing="0.2">Oct '20</text>
<rect x="676.5" y="875" width="1" height="9" fill="#ececec"/>
<text x="677" y="898.5" font-size="15" fill="#555" text-anchor="middle" letter-spacing="0.2">Jan '21</text>
<rect x="805.5" y="875" width="1" height="9" fill="#ececec"/>
<text x="806" y="898.5" font-size="15" fill="#555" text-anchor="middle" letter-spacing="0.2">Apr '21</text>
<rect x="936.5" y="875" width="1" height="9" fill="#ececec"/>
<text x="937" y="898.5" font-size="15" fill="#555" text-anchor="middle" letter-spacing="0.2">Jul '21</text>
<rect x="1069.5" y="875" width="1" height="9" fill="#ececec"/>
<text x="1070" y="898.5" font-size="15" fill="#555" text-anchor="middle" letter-spacing="0.2">Oct '21</text>
<rect x="1201.5" y="875" width="1" height="9" fill="#ececec"/>
<text x="1202" y="898.5" font-size="15" fill="#555" text-anchor="middle" letter-spacing="0.2">Jan '22</text>
<rect x="1331.5" y="875" width="1" height="9" fill="#ececec"/>
<text x="1332" y="898.5" font-size="15" fill="#555" text-anchor="middle" letter-spacing="0.2">Apr '22</text>
<rect x="1463.0" y="875" width="1" height="9" fill="#ececec"/>
<text x="1463.5" y="898.5" font-size="15" fill="#555" text-anchor="middle" letter-spacing="0.2">Jul '22</text>
<rect x="1595.8" y="875" width="1" height="9" fill="#ececec"/>
<text x="1596.3" y="898.5" font-size="15" fill="#555" text-anchor="middle" letter-spacing="0.2">Oct '22</text>
<rect x="1706.2" y="197" width="2" height="678" fill="#2b2b2b"/>
<text x="105.2" y="871.9" font-size="13" fill="#6b6b6b" text-anchor="end" letter-spacing="0.7">75E</text>
<text x="105.2" y="702.4" font-size="13" fill="#6b6b6b" text-anchor="end" letter-spacing="0.7">125E</text>
<text x="105.2" y="533" font-size="13" fill="#6b6b6b" text-anchor="end" letter-spacing="0.7">175E</text>
<text x="105.2" y="364.5" font-size="13" fill="#6b6b6b" text-anchor="end" letter-spacing="0.7">225E</text>
<text x="1718.5" y="871.4" font-size="13" fill="#777" letter-spacing="0.8">$4k</text>
<text x="1718.5" y="715.1" font-size="13" fill="#777" letter-spacing="0.8">$8k</text>
<text x="1718.5" y="508.4" font-size="13" fill="#777" letter-spacing="0.8">$20k</text>
<text x="1718.5" y="260.3" font-size="13" fill="#777" letter-spacing="0.8">$60k</text>
<line x1="1203.4" y1="272.2" x2="1698" y2="272.2" stroke="#8c4862" stroke-width="1.7" stroke-dasharray="5 4.1" stroke-dashoffset="8.5"/>
<ellipse cx="1680.6" cy="258.8" rx="28" ry="25.7" fill="#ec6a90" fill-opacity="0.2" stroke="#c44d70" stroke-width="1.7" stroke-dasharray="5 4.2"/>
<text x="1214.5" y="239.8" font-size="23" font-weight="bold" fill="#dc2a5e" textLength="150.2" lengthAdjust="spacingAndGlyphs">Hash Ribbons</text>
<text x="1209.5" y="266.3" font-size="23" font-weight="bold" fill="#dc2a5e" textLength="159.2" lengthAdjust="spacingAndGlyphs">Inverted Again</text>
<text y="1001.2" font-size="17" fill="#999"><tspan x="57.6">©</tspan><tspan x="78.3" letter-spacing="1.1">2022</tspan><tspan x="125.9" letter-spacing="0.26">Glassnode. All Rights Reserved.</tspan></text>
<g fill="none" stroke="#000" stroke-width="11" transform="translate(1450.80,846.77) scale(0.278)"><circle cx="684.2" cy="534.2" r="24.8"/>
<path d="M703.9,557 L703.9,506.2 L714.9,504.6 L714.9,557 Z" fill="#000" stroke="none"/>
<path d="M709.4,556.5 A24.8,24.8 0 0 1 662.7,569.5"/>
<path d="M728.3,563.4 L728.3,481.2 L739.2,480.1 L739.2,563.4 Z" fill="#000" stroke="none"/>
<circle cx="781.25" cy="534.2" r="24.8"/>
<path d="M800.7,563.4 L800.7,506.2 L811.6,504.6 L811.6,563.4 Z" fill="#000" stroke="none"/>
<path d="M859.5999999999999,518.0 C855.5999999999999,510.0 849.3,507.0 841.3,509.0 C831.3,511.0 828.3,517.0 829.3,522.0 C831.3,531.8 841.3,532.3 843.9499999999999,533.8 C854.5999999999999,535.8 861.5999999999999,538.8 860.5999999999999,546.6 C859.5999999999999,555.6 851.3,558.6 843.3,558.6 C834.3,558.6 828.3,553.6 826.3,548.6"/>
<path d="M908.5999999999999,518.0 C904.5999999999999,510.0 898.3,507.0 890.3,509.0 C880.3,511.0 877.3,517.0 878.3,522.0 C880.3,531.8 890.3,532.3 892.9499999999999,533.8 C903.5999999999999,535.8 910.5999999999999,538.8 909.5999999999999,546.6 C908.5999999999999,555.6 900.3,558.6 892.3,558.6 C883.3,558.6 877.3,553.6 875.3,548.6"/>
<path d="M924.8,563.4 L924.8,507.8 L935.7,505.8 L935.7,563.4 Z" fill="#000" stroke="none"/>
<path d="M930.25,531 L930.25,529.4 A20.4,20.4 0 0 1 971,529.4 L971,563.4"/>
<circle cx="1016.65" cy="534.2" r="24.8"/>
<circle cx="1084.65" cy="534.2" r="24.8"/>
<path d="M1104.0,563.4 L1104.0,485.6 L1115.2,483.2 L1115.2,563.4 Z" fill="#000" stroke="none"/>
<path d="M1131.2,533.85 L1184.8999999999999,533.85 M1179.3999999999999,533.85 A24.1,24.1 0 1 0 1174.098,549.383"/></g>
</svg>
</body></html>
